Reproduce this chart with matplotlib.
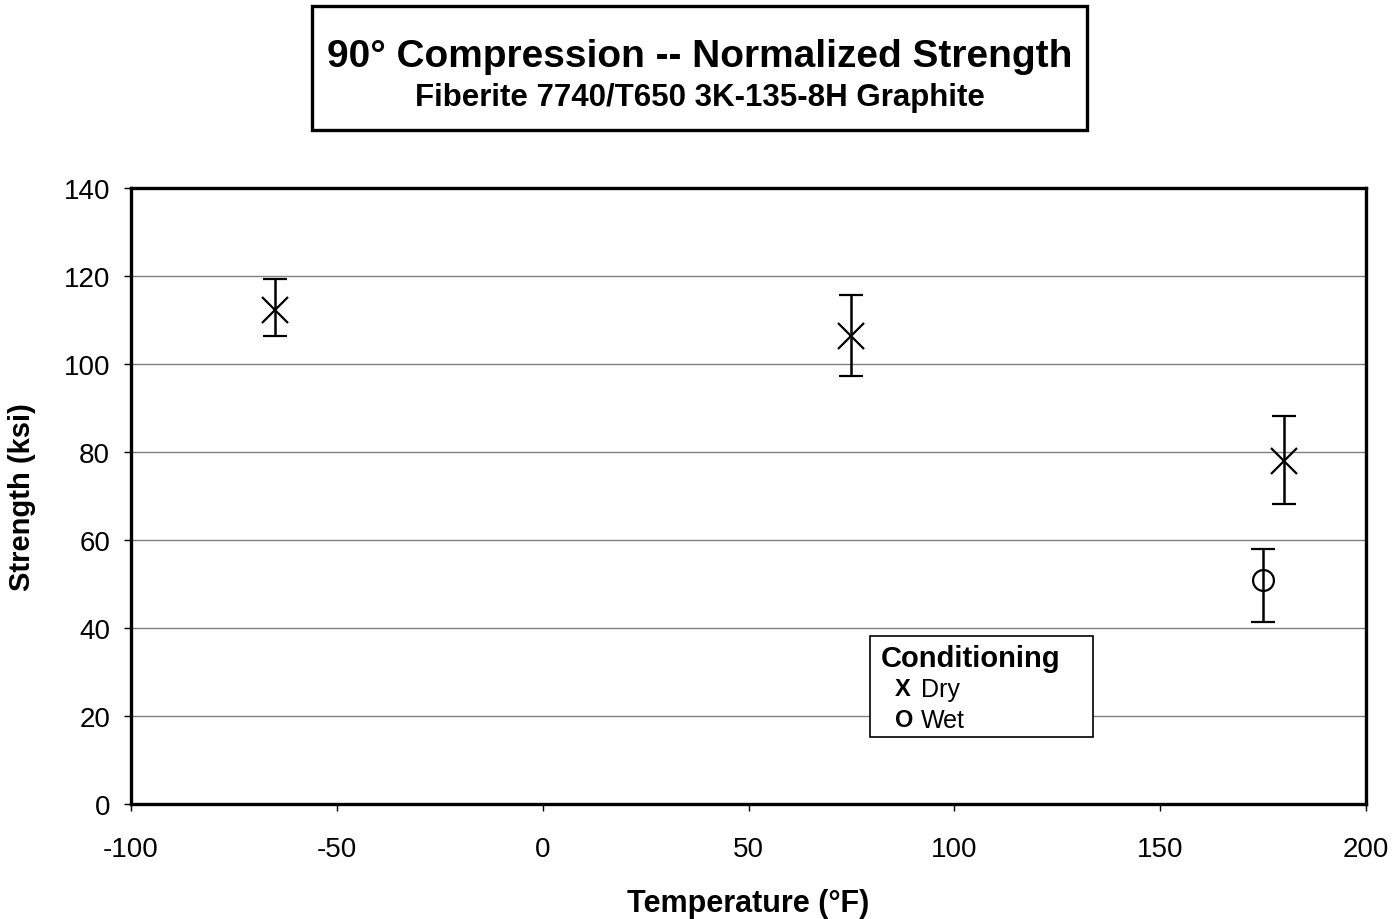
import matplotlib
matplotlib.use('Agg')
import matplotlib.pyplot as plt
from matplotlib.patches import Rectangle

plt.rcParams['font.family'] = ['Liberation Sans', 'DejaVu Sans']
plt.rcParams['axes.unicode_minus'] = False

# dados
temp_dry = [-65, 75, 180]
str_dry = [112.3, 106.4, 78.0]
err_dry_low = [5.9, 9.1, 9.8]
err_dry_high = [7.0, 9.3, 10.2]

temp_wet = [175]
str_wet = [50.9]
err_wet_low = [9.5]
err_wet_high = [7.1]

xticks = [-100, -50, 0, 50, 100, 150, 200]
yticks = [0, 20, 40, 60, 80, 100, 120, 140]

fig = plt.figure(figsize=(14, 9.2), dpi=100)
ax = fig.add_axes([0.0936, 0.125, 0.8821, 0.6696])

# grade horizontal
for y in yticks[1:-1]:
    ax.axhline(y, color='#808080', lw=1.0, zorder=1)

ax.errorbar(temp_dry, str_dry, yerr=[err_dry_low, err_dry_high], fmt='x',
            color='black', ms=19, mew=1.6, elinewidth=1.8, capsize=8.5,
            capthick=1.8, zorder=3)
ax.errorbar(temp_wet, str_wet, yerr=[err_wet_low, err_wet_high], fmt='o',
            color='black', mfc='none', ms=15, mew=1.6, elinewidth=1.8,
            capsize=8.5, capthick=1.8, zorder=3)

ax.set_xlim(-100, 200)
ax.set_ylim(0, 140)
ax.set_xticks(xticks)
ax.set_yticks(yticks)
ax.tick_params(direction='out', length=5, width=1.0, labelsize=20)
ax.tick_params(axis='x', pad=18)
ax.tick_params(axis='y', pad=10)
for s in ax.spines.values():
    s.set_linewidth(2.4)

ax.set_xlabel('Temperature (°F)', fontsize=22, fontweight='bold', labelpad=19)
ax.set_ylabel('Strength (ksi)', fontsize=21, fontweight='bold', labelpad=20)

# legenda desenhada à mão (caixa estilo Excel)
ax.add_patch(Rectangle((0.5984, 0.1088), 0.1806, 0.1640, transform=ax.transAxes,
                       facecolor='white', edgecolor='black', lw=1.2, zorder=5))
ax.text(0.6073, 0.2370, 'Conditioning', transform=ax.transAxes, fontsize=21,
        fontweight='bold', va='center', ha='left', zorder=6)
for yy, sym, lab in [(0.1867, 'X', 'Dry'), (0.1364, 'O', 'Wet')]:
    ax.text(0.6186, yy, sym, transform=ax.transAxes, fontsize=17,
            fontweight='bold', va='center', ha='left', zorder=6)
    ax.text(0.6397, yy, lab, transform=ax.transAxes, fontsize=18,
            va='center', ha='left', zorder=6)

# caixa do título
fig.patches.append(Rectangle((0.2229, 0.8576), 0.5536, 0.1348,
                             transform=fig.transFigure, fill=False,
                             lw=2.4, edgecolor='black'))
fig.text(0.5, 0.938, '90° Compression -- Normalized Strength',
         ha='center', va='center', fontsize=28, fontweight='bold')
fig.text(0.5, 0.893, 'Fiberite 7740/T650 3K-135-8H Graphite',
         ha='center', va='center', fontsize=22.5, fontweight='bold')

fig.savefig('out.png', dpi=100)
